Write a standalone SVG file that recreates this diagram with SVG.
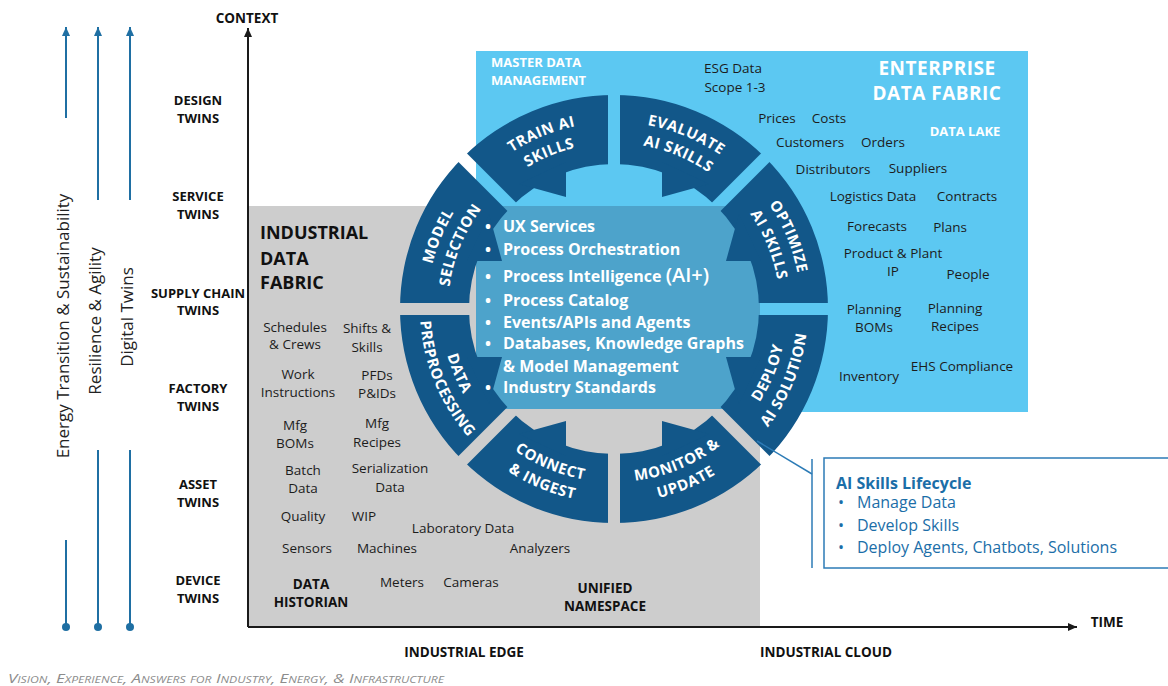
<svg xmlns="http://www.w3.org/2000/svg" width="1168" height="686" viewBox="0 0 1168 686">
  <style>
    .sans { font-family: "Open Sans", "DejaVu Sans", sans-serif; }
    .item { font-family: "Open Sans", "DejaVu Sans", sans-serif; font-size: 13.5px; fill: #1c1c1c; text-anchor: middle; }
    .itemb { font-family: "Open Sans", "DejaVu Sans", sans-serif; font-size: 13.5px; font-weight: 700; fill: #111; text-anchor: middle; }
    .twin { font-family: "Open Sans", "DejaVu Sans", sans-serif; font-size: 13px; font-weight: 700; fill: #111; text-anchor: middle; }
    .axis-label { font-family: "Open Sans", "DejaVu Sans", sans-serif; font-size: 13.5px; font-weight: 700; fill: #111; text-anchor: middle; }
    .theme { font-family: "Open Sans", "DejaVu Sans", sans-serif; font-size: 17px; fill: #222; text-anchor: middle; }
    .seg { font-family: "Open Sans", "DejaVu Sans", sans-serif; font-size: 15px; font-weight: 700; fill: #fff; letter-spacing: 0.5px; text-anchor: middle; }
    .core { font-family: "Open Sans", "DejaVu Sans", sans-serif; font-size: 16px; font-weight: 700; fill: #fff; }
    .white-head { font-family: "Open Sans", "DejaVu Sans", sans-serif; font-weight: 700; fill: #fff; }
    .legend { font-family: "Open Sans", "DejaVu Sans", sans-serif; font-size: 16px; fill: #1b6ea8; }
    .ring-fill { fill: #125789; }
    .blue-line { stroke: #1f6fa3; stroke-width: 2; fill: none; }
    .axis-line { stroke: #1a1a1a; stroke-width: 2; fill: none; }
  </style>
  <defs>
    <marker id="axisHead" markerUnits="userSpaceOnUse" markerWidth="10" markerHeight="10" refX="9" refY="5" orient="auto">
      <path d="M0,1 L9,5 L0,9 z" fill="#1a1a1a"/>
    </marker>
    <marker id="blueHead" markerUnits="userSpaceOnUse" markerWidth="10" markerHeight="10" refX="9" refY="5" orient="auto">
      <path d="M0,1 L9,5 L0,9 z" fill="#1f6fa3"/>
    </marker>
    <!-- gaps cut between the eight lifecycle segments -->
    <mask id="gaps" maskUnits="userSpaceOnUse" x="0" y="0" width="1168" height="686">
      <rect width="1168" height="686" fill="#fff"/>
      <g stroke="#000" stroke-width="12">
        <line x1="384" y1="309" x2="844" y2="309"/>
        <line x1="614" y1="79" x2="614" y2="539"/>
        <line x1="451" y1="146" x2="777" y2="472"/>
        <line x1="451" y1="472" x2="777" y2="146"/>
      </g>
    </mask>
    <!-- label arcs: upper half clockwise, lower half counter-clockwise -->
    <path id="aModelO" d="M427,309 A187,187 0 0 1 481.77,176.77"/>
    <path id="aModelI" d="M448,309 A166,166 0 0 1 496.62,191.62"/>
    <path id="aTrainO" d="M481.77,176.77 A187,187 0 0 1 614,122"/>
    <path id="aTrainI" d="M496.62,191.62 A166,166 0 0 1 614,143"/>
    <path id="aEvalO" d="M614,122 A187,187 0 0 1 746.23,176.77"/>
    <path id="aEvalI" d="M614,143 A166,166 0 0 1 731.38,191.62"/>
    <path id="aOptO" d="M746.23,176.77 A187,187 0 0 1 801,309"/>
    <path id="aOptI" d="M731.38,191.62 A166,166 0 0 1 780,309"/>
    <path id="aDeployI" d="M736.33,431.33 A173,173 0 0 0 787,309"/>
    <path id="aDeployO" d="M751.18,446.18 A194,194 0 0 0 808,309"/>
    <path id="aMonI" d="M614,482 A173,173 0 0 0 736.33,431.33"/>
    <path id="aMonO" d="M614,503 A194,194 0 0 0 751.18,446.18"/>
    <path id="aConI" d="M491.67,431.33 A173,173 0 0 0 614,482"/>
    <path id="aConO" d="M476.82,446.18 A194,194 0 0 0 614,503"/>
    <path id="aDataI" d="M441,309 A173,173 0 0 0 491.67,431.33"/>
    <path id="aDataO" d="M420,309 A194,194 0 0 0 476.82,446.18"/>
  </defs>

  <rect width="1168" height="686" fill="#fff"/>

  <!-- fabric backgrounds -->
  <g id="enterprise-data-fabric">
    <rect x="476" y="51" width="552" height="361" fill="#5cc8f2"/>
    <text class="white-head" font-size="13" x="491" y="67">MASTER DATA</text>
    <text class="white-head" font-size="13" x="491" y="85">MANAGEMENT</text>
    <text class="white-head" font-size="19" text-anchor="middle" x="937" y="75" letter-spacing="0.5">ENTERPRISE</text>
    <text class="white-head" font-size="19" text-anchor="middle" x="937" y="100" letter-spacing="0.5">DATA FABRIC</text>
    <text class="white-head" font-size="13" text-anchor="middle" x="965" y="136">DATA LAKE</text>
    <text class="item" x="733" y="73">ESG Data</text>
    <text class="item" x="735" y="92">Scope 1-3</text>
    <text class="item" x="777" y="123">Prices</text>
    <text class="item" x="829" y="123">Costs</text>
    <text class="item" x="810" y="147">Customers</text>
    <text class="item" x="883" y="147">Orders</text>
    <text class="item" x="833" y="174">Distributors</text>
    <text class="item" x="918" y="173">Suppliers</text>
    <text class="item" x="873" y="201">Logistics Data</text>
    <text class="item" x="967" y="201">Contracts</text>
    <text class="item" x="877" y="231">Forecasts</text>
    <text class="item" x="950" y="232">Plans</text>
    <text class="item" x="893" y="258">Product &amp; Plant</text>
    <text class="item" x="893" y="276">IP</text>
    <text class="item" x="968" y="279">People</text>
    <text class="item" x="874" y="314">Planning</text>
    <text class="item" x="874" y="332">BOMs</text>
    <text class="item" x="955" y="313">Planning</text>
    <text class="item" x="955" y="331">Recipes</text>
    <text class="item" x="869" y="381">Inventory</text>
    <text class="item" x="962" y="371">EHS Compliance</text>
  </g>

  <g id="industrial-data-fabric">
    <rect x="248" y="206" width="512" height="421" fill="#cdcdcd"/>
    <text class="sans" font-size="18" font-weight="700" fill="#111" x="260" y="239">INDUSTRIAL</text>
    <text class="sans" font-size="18" font-weight="700" fill="#111" x="260" y="265">DATA</text>
    <text class="sans" font-size="18" font-weight="700" fill="#111" x="260" y="289">FABRIC</text>
    <text class="item" x="295" y="332">Schedules</text>
    <text class="item" x="295" y="349">&amp; Crews</text>
    <text class="item" x="367" y="333">Shifts &amp;</text>
    <text class="item" x="367" y="352">Skills</text>
    <text class="item" x="298" y="379">Work</text>
    <text class="item" x="298" y="397">Instructions</text>
    <text class="item" x="377" y="380">PFDs</text>
    <text class="item" x="377" y="398">P&amp;IDs</text>
    <text class="item" x="295" y="430">Mfg</text>
    <text class="item" x="295" y="448">BOMs</text>
    <text class="item" x="377" y="428">Mfg</text>
    <text class="item" x="377" y="447">Recipes</text>
    <text class="item" x="303" y="475">Batch</text>
    <text class="item" x="303" y="493">Data</text>
    <text class="item" x="390" y="473">Serialization</text>
    <text class="item" x="390" y="492">Data</text>
    <text class="item" x="303" y="521">Quality</text>
    <text class="item" x="364" y="521">WIP</text>
    <text class="item" x="463" y="533">Laboratory Data</text>
    <text class="item" x="307" y="553">Sensors</text>
    <text class="item" x="387" y="553">Machines</text>
    <text class="item" x="540" y="553">Analyzers</text>
    <text class="itemb" x="311" y="589">DATA</text>
    <text class="itemb" x="311" y="607">HISTORIAN</text>
    <text class="item" x="402" y="587">Meters</text>
    <text class="item" x="471" y="587">Cameras</text>
    <text class="itemb" x="605" y="593">UNIFIED</text>
    <text class="itemb" x="605" y="611">NAMESPACE</text>
  </g>

  <!-- platform core background -->
  <rect id="platform-core-bg" x="476" y="206" width="284" height="203" fill="#4da3cb"/>

  <!-- lifecycle ring -->
  <g id="lifecycle-ring" mask="url(#gaps)">
    <path class="ring-fill" fill-rule="evenodd" d="M400,309 A214,214 0 1 0 828,309 A214,214 0 1 0 400,309 Z M469,309 A145,145 0 1 1 759,309 A145,145 0 1 1 469,309 Z"/>
    <polygon class="ring-fill" points="566,162 566,197 519,184"/>
    <polygon class="ring-fill" points="662,162 662,197 709,184"/>
    <polygon class="ring-fill" points="761,261 726,261 739,214"/>
    <polygon class="ring-fill" points="761,357 726,357 739,404"/>
    <polygon class="ring-fill" points="662,456 662,421 709,434"/>
    <polygon class="ring-fill" points="566,456 566,421 519,434"/>
    <polygon class="ring-fill" points="467,357 502,357 489,404"/>
    <polygon class="ring-fill" points="467,261 502,261 489,214"/>
  </g>

  <!-- platform core capabilities -->
  <g id="platform-core" class="core">
    <text x="485" y="232">•</text><text x="503" y="232">UX Services</text>
    <text x="485" y="255">•</text><text x="503" y="255">Process Orchestration</text>
    <text x="485" y="282">•</text><text x="503" y="282">Process Intelligence <tspan font-size="20" font-weight="600">(AI+)</tspan></text>
    <text x="485" y="306">•</text><text x="503" y="306">Process Catalog</text>
    <text x="485" y="328">•</text><text x="503" y="328">Events/APIs and Agents</text>
    <text x="485" y="349">•</text><text x="503" y="349">Databases, Knowledge Graphs</text>
    <text x="503" y="372">&amp; Model Management</text>
    <text x="485" y="393">•</text><text x="503" y="393">Industry Standards</text>
  </g>

  <g id="model-selection">
    <text class="seg"><textPath href="#aModelO" startOffset="50%">MODEL</textPath></text>
    <text class="seg"><textPath href="#aModelI" startOffset="50%">SELECTION</textPath></text>
  </g>
  <g id="train-ai-skills">
    <text class="seg"><textPath href="#aTrainO" startOffset="50%">TRAIN AI</textPath></text>
    <text class="seg"><textPath href="#aTrainI" startOffset="50%">SKILLS</textPath></text>
  </g>
  <g id="evaluate-ai-skills">
    <text class="seg"><textPath href="#aEvalO" startOffset="50%">EVALUATE</textPath></text>
    <text class="seg"><textPath href="#aEvalI" startOffset="50%">AI SKILLS</textPath></text>
  </g>
  <g id="optimize-ai-skills">
    <text class="seg"><textPath href="#aOptO" startOffset="50%">OPTIMIZE</textPath></text>
    <text class="seg"><textPath href="#aOptI" startOffset="50%">AI SKILLS</textPath></text>
  </g>
  <g id="deploy-ai-solution">
    <text class="seg"><textPath href="#aDeployI" startOffset="50%">DEPLOY</textPath></text>
    <text class="seg"><textPath href="#aDeployO" startOffset="50%">AI SOLUTION</textPath></text>
  </g>
  <g id="monitor-update">
    <text class="seg"><textPath href="#aMonI" startOffset="50%">MONITOR &amp;</textPath></text>
    <text class="seg"><textPath href="#aMonO" startOffset="50%">UPDATE</textPath></text>
  </g>
  <g id="connect-ingest">
    <text class="seg"><textPath href="#aConI" startOffset="50%">CONNECT</textPath></text>
    <text class="seg"><textPath href="#aConO" startOffset="50%">&amp; INGEST</textPath></text>
  </g>
  <g id="data-preprocessing">
    <text class="seg"><textPath href="#aDataI" startOffset="50%">DATA</textPath></text>
    <text class="seg"><textPath href="#aDataO" startOffset="50%">PREPROCESSING</textPath></text>
  </g>

  <!-- twin levels -->
  <g id="twin-levels">
    <text class="twin" x="198" y="104.5">DESIGN</text>
    <text class="twin" x="198" y="122.5">TWINS</text>
    <text class="twin" x="198" y="200.5">SERVICE</text>
    <text class="twin" x="198" y="218.5">TWINS</text>
    <text class="twin" x="198" y="297.5">SUPPLY CHAIN</text>
    <text class="twin" x="198" y="314.5">TWINS</text>
    <text class="twin" x="198" y="392.5">FACTORY</text>
    <text class="twin" x="198" y="410.5">TWINS</text>
    <text class="twin" x="198" y="488.5">ASSET</text>
    <text class="twin" x="198" y="506.5">TWINS</text>
    <text class="twin" x="198" y="584.5">DEVICE</text>
    <text class="twin" x="198" y="602.5">TWINS</text>
  </g>

  <g id="themes">
    <text class="theme" transform="translate(69,326) rotate(-90)">Energy Transition &amp; Sustainability</text>
    <text class="theme" transform="translate(101,321) rotate(-90)">Resilience &amp; Agility</text>
    <text class="theme" transform="translate(133,317) rotate(-90)">Digital Twins</text>
  </g>

  <g id="axis-labels">
    <text class="axis-label" x="247" y="23">CONTEXT</text>
    <text class="axis-label" x="1107" y="627" font-size="13">TIME</text>
    <text class="axis-label" x="464" y="657">INDUSTRIAL EDGE</text>
    <text class="axis-label" x="826" y="657">INDUSTRIAL CLOUD</text>
  </g>

  <g id="ai-skills-lifecycle">
    <rect x="824" y="458" width="360" height="110" fill="#fff" stroke="#2c7bb6" stroke-width="1.5"/>
    <text class="legend" x="836" y="489" font-weight="700" font-size="16.5">AI Skills Lifecycle</text>
    <text class="legend" x="838" y="508">•</text><text class="legend" x="857" y="508">Manage Data</text>
    <text class="legend" x="838" y="531">•</text><text class="legend" x="857" y="531">Develop Skills</text>
    <text class="legend" x="838" y="553">•</text><text class="legend" x="857" y="553">Deploy Agents, Chatbots, Solutions</text>
  </g>

  <!-- connectors -->
  <g id="connectors">
    <line class="axis-line" x1="248" y1="627" x2="248" y2="28" marker-end="url(#axisHead)"/>
    <line class="axis-line" x1="248" y1="627" x2="1077" y2="627" marker-end="url(#axisHead)"/>
    <line class="blue-line" x1="66" y1="118" x2="66" y2="27" marker-end="url(#blueHead)"/>
    <line class="blue-line" x1="66" y1="540" x2="66" y2="627"/>
    <circle cx="66" cy="627" r="4" fill="#1f6fa3"/>
    <line class="blue-line" x1="98" y1="200" x2="98" y2="27" marker-end="url(#blueHead)"/>
    <line class="blue-line" x1="98" y1="450" x2="98" y2="627"/>
    <circle cx="98" cy="627" r="4" fill="#1f6fa3"/>
    <line class="blue-line" x1="130" y1="200" x2="130" y2="27" marker-end="url(#blueHead)"/>
    <line class="blue-line" x1="130" y1="450" x2="130" y2="627"/>
    <circle cx="130" cy="627" r="4" fill="#1f6fa3"/>
    <polyline points="757,441 812,474" fill="none" stroke="#2c7bb6" stroke-width="1.5"/>
    <line x1="812" y1="459" x2="812" y2="568" stroke="#2c7bb6" stroke-width="1.5"/>
  </g>

  <text class="sans" x="8" y="683" font-size="12.5" font-style="italic" font-variant="small-caps" fill="#8c8c8c" textLength="436" lengthAdjust="spacingAndGlyphs">Vision, Experience, Answers for Industry, Energy, &amp; Infrastructure</text>
</svg>
